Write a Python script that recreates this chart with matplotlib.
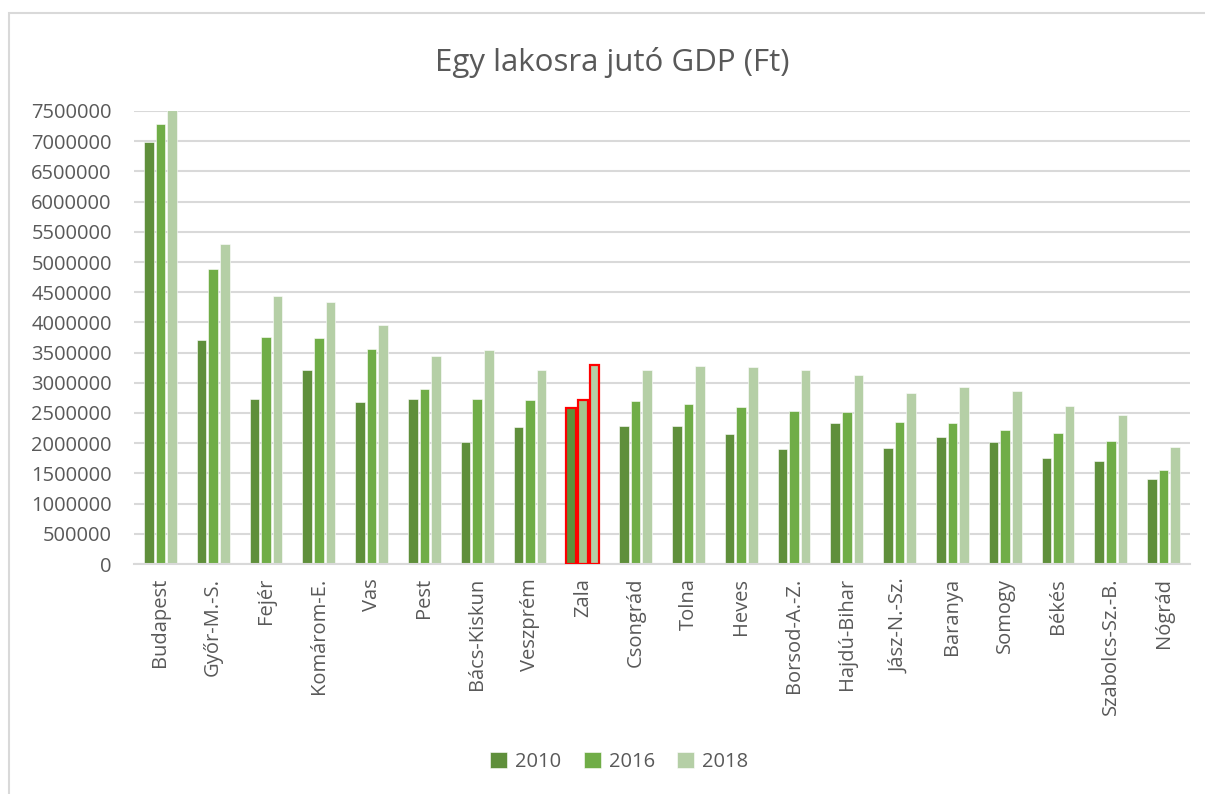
import numpy as np
import matplotlib.pyplot as plt
from matplotlib.patches import Rectangle

plt.rcParams['font.family'] = ['Open Sans', 'DejaVu Sans']

megyek = ['Budapest', 'Győr-M.-S.', 'Fejér', 'Komárom-E.', 'Vas', 'Pest',
          'Bács-Kiskun', 'Veszprém', 'Zala', 'Csongrád', 'Tolna', 'Heves',
          'Borsod-A.-Z.', 'Hajdú-Bihar', 'Jász-N.-Sz.', 'Baranya', 'Somogy',
          'Békés', 'Szabolcs-Sz.-B.', 'Nógrád']
gdp_2010 = [6990000, 3710000, 2735000, 3210000, 2675000, 2740000, 2025000,
            2275000, 2585000, 2290000, 2285000, 2160000, 1905000, 2335000,
            1920000, 2110000, 2015000, 1755000, 1705000, 1405000]
gdp_2016 = [7290000, 4890000, 3755000, 3745000, 3565000, 2900000, 2735000,
            2715000, 2715000, 2695000, 2650000, 2595000, 2535000, 2520000,
            2345000, 2330000, 2215000, 2165000, 2035000, 1560000]
gdp_2018 = [7520000, 5305000, 4435000, 4345000, 3955000, 3450000, 3545000,
            3215000, 3300000, 3205000, 3280000, 3255000, 3205000, 3125000,
            2835000, 2930000, 2865000, 2610000, 2465000, 1930000]
evek = ['2010', '2016', '2018']
kiemelt = 'Zala'

szinek = ['#5f8f3b', '#70ad47', '#b5cfa6']
zala_szinek = ['#5f8f3b', '#a5c58d', '#b5cfa6']
txt = '#595959'

fig = plt.figure(figsize=(12.05, 7.94), dpi=100)
fig.patches.append(Rectangle((9 / 1205, -0.1), 1.2, 1 - 13 / 794 + 0.1,
                             transform=fig.transFigure, fill=False,
                             edgecolor='#d9d9d9', linewidth=1.5))
ax = fig.add_axes([134 / 1205, 1 - 564 / 794, 1056 / 1205, 453 / 794])

x = np.arange(len(megyek))
w = 0.18
lep = 0.22
for i, (ertek, ev) in enumerate(zip([gdp_2010, gdp_2016, gdp_2018], evek)):
    bars = ax.bar(x + (i - 1) * lep, ertek, width=w, color=szinek[i],
                  edgecolor='white', linewidth=0.4, label=ev, zorder=2)
    k = megyek.index(kiemelt)
    bars[k].set_facecolor(zala_szinek[i])
    bars[k].set_edgecolor('#ff0000')
    bars[k].set_linewidth(1.6)
    bars[k].set_zorder(3)

ax.set_ylim(0, 7500000)
ax.set_xlim(-0.5, len(megyek) - 0.5)
ax.set_yticks(np.arange(0, 7500001, 500000))
ax.set_yticklabels([str(v) for v in range(0, 7500001, 500000)])
ax.set_xticks(x)
ax.set_xticklabels(megyek, rotation=90)
ax.tick_params(axis='y', length=0, labelsize=14.5, labelcolor=txt, pad=16)
ax.tick_params(axis='x', length=0, labelsize=14.5, labelcolor=txt, pad=10)
ax.grid(axis='y', color='#d9d9d9', linewidth=1.5, zorder=0)
ax.set_axisbelow(True)
for s in ['top', 'right', 'left']:
    ax.spines[s].set_visible(False)
ax.spines['bottom'].set_color('#d9d9d9')
ax.spines['bottom'].set_linewidth(1.5)

fig.text(0.508, 1 - 62 / 794, 'Egy lakosra jutó GDP (Ft)', ha='center',
         va='center', fontsize=22.5, color=txt)

handles, labels = ax.get_legend_handles_labels()
fig.legend(handles, labels, loc='center', bbox_to_anchor=(0.514, 1 - 762 / 794),
           ncol=3, frameon=False, fontsize=14.5, labelcolor=txt,
           handlelength=0.85, handleheight=0.85, handletextpad=0.4,
           columnspacing=1.1)

fig.savefig('out.png', dpi=100)
